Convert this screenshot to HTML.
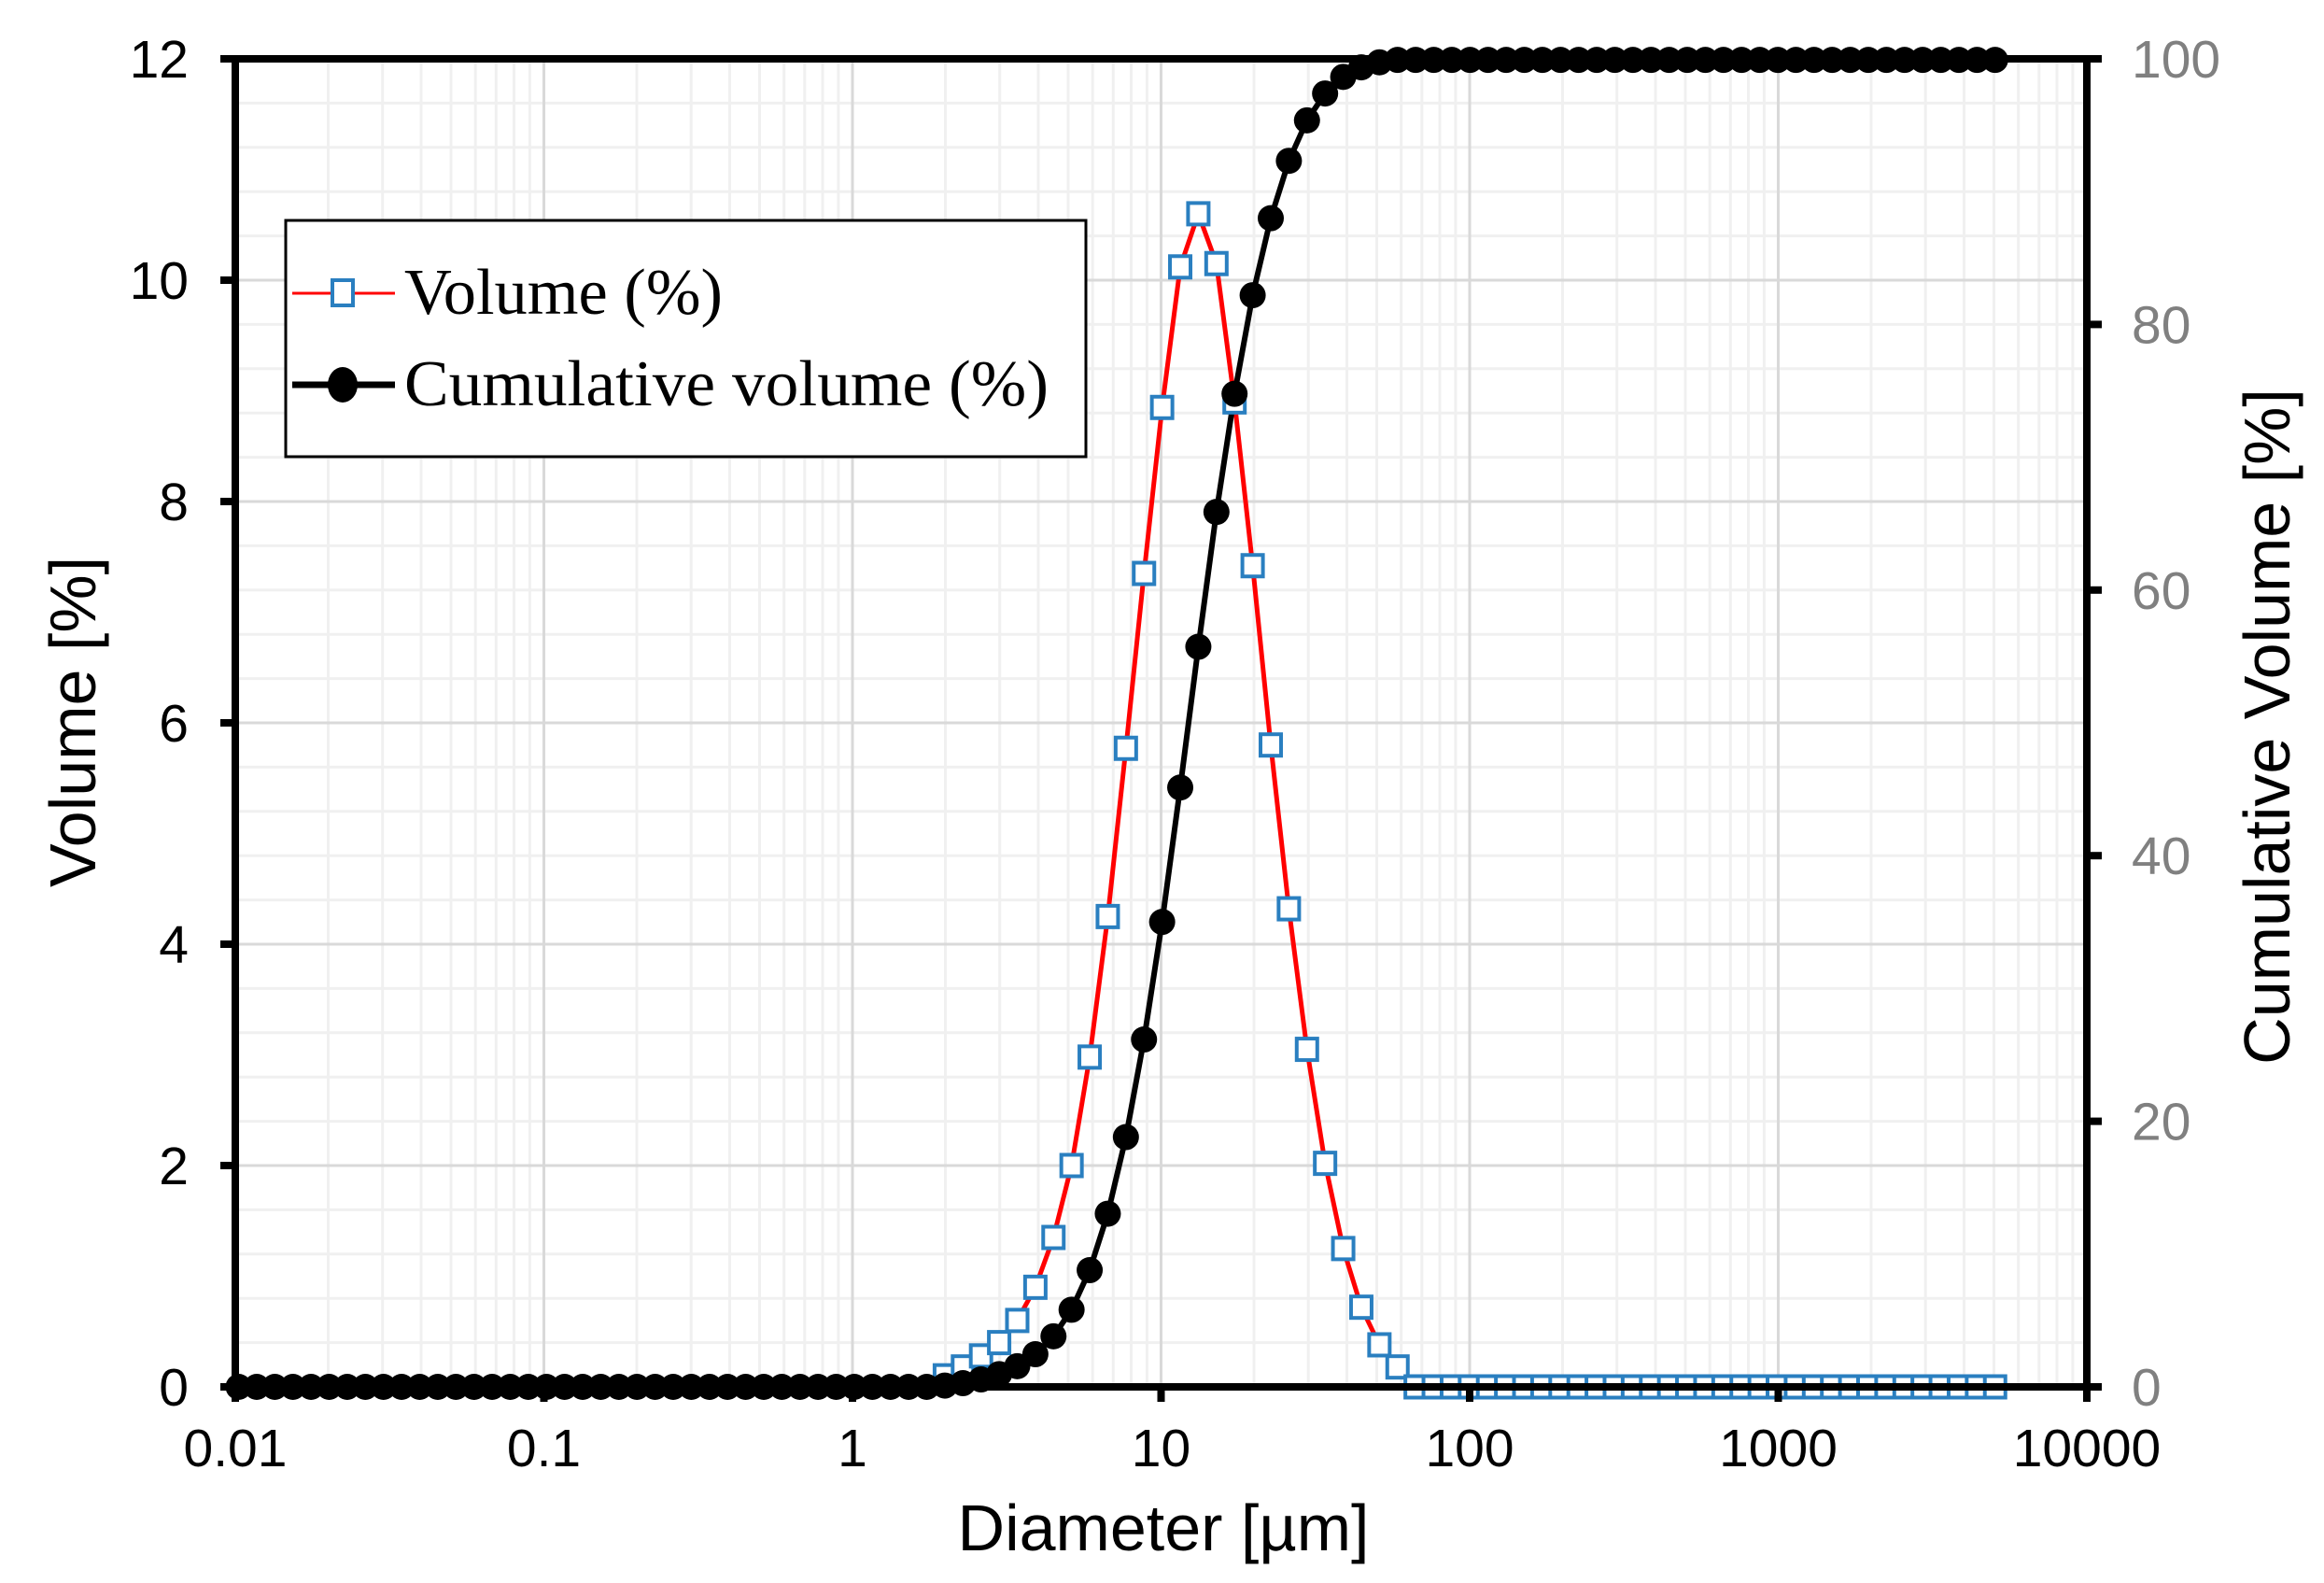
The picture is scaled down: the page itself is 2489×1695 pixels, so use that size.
<!DOCTYPE html>
<html><head><meta charset="utf-8"><style>
html,body{margin:0;padding:0;background:#fff;}
svg{display:block;}
</style></head><body>
<svg id="s" width="2489" height="1695" viewBox="0 0 2489 1695" xmlns="http://www.w3.org/2000/svg" font-family="Liberation Sans, sans-serif">
<g id="grid"></g>
<g id="series"></g>
<g id="axes"></g>
<g id="labels" font-size="57">
<text x="1246" y="1660" font-size="70" text-anchor="middle">Diameter [µm]</text>
<text transform="translate(102,773) rotate(-90)" font-size="70" text-anchor="middle">Volume [%]</text>
<text transform="translate(2452,778) rotate(-90)" font-size="70" text-anchor="middle">Cumulative Volume [%]</text>
</g>
<g id="legend">
<rect x="306" y="236" width="857" height="253" fill="#fff" stroke="#000" stroke-width="3"/>
<line x1="313" y1="314" x2="423" y2="314" stroke="#f00" stroke-width="3"/>
<rect x="356" y="300" width="22" height="27" fill="#fff" stroke="#2a7fc0" stroke-width="4"/>
<line x1="313" y1="412" x2="423" y2="412" stroke="#000" stroke-width="7"/>
<ellipse cx="367" cy="412" rx="16" ry="19" fill="#000"/>
<text x="433" y="336" font-family="Liberation Serif, serif" font-size="70" textLength="341" lengthAdjust="spacingAndGlyphs">Volume (%)</text>
<text x="433" y="434" font-family="Liberation Serif, serif" font-size="70" textLength="690" lengthAdjust="spacingAndGlyphs">Cumulative volume (%)</text>
</g>
</svg>
<script>
(function(){
var NS="http://www.w3.org/2000/svg";
function el(p,t,a){var e=document.createElementNS(NS,t);for(var k in a)e.setAttribute(k,a[k]);p.appendChild(e);return e;}
var L=252,R=2235,T=63,B=1485,dec=330.5;
function X(d){return L+dec*(Math.log10(d)+2);}
function Y(v){return B-v*(B-T)/12;}
function Yc(c){return B-c*(B-T)/100;}
var g=document.getElementById("grid");
for(var e=-2;e<4;e++)for(var m=2;m<10;m++){var x=X(m*Math.pow(10,e));el(g,"line",{x1:x,y1:T,x2:x,y2:B,stroke:"#f0f0f0","stroke-width":3});}
for(var v=0;v<12;v+=0.4){if(Math.abs(v/2-Math.round(v/2))<0.01)continue;var y=Y(v);el(g,"line",{x1:L,y1:y,x2:R,y2:y,stroke:"#f0f0f0","stroke-width":3});}
for(var e=-1;e<4;e++){var x=X(Math.pow(10,e));el(g,"line",{x1:x,y1:T,x2:x,y2:B,stroke:"#d9d9d9","stroke-width":3});}
for(var v=2;v<12;v+=2){var y=Y(v);el(g,"line",{x1:L,y1:y,x2:R,y2:y,stroke:"#d9d9d9","stroke-width":3});}
var vol=[0.1,0.18,0.28,0.4,0.6,0.9,1.35,2.0,2.98,4.25,5.77,7.35,8.85,10.12,10.6,10.15,8.9,7.42,5.8,4.32,3.05,2.02,1.25,0.72,0.38,0.18,0];
function xd(k){var xdisp=956+12.27*k;var lg=(xdisp-160)/209.1-2;return L+dec*(lg+2)+6;}
var s=document.getElementById("series");
var cum=[],c=0;
for(var k=-65;k<=32;k++){var i=k+26;var v=(i>=0&&i<vol.length)?vol[i]:0;c+=v;cum.push([Math.max(xd(k),L),Math.min(c,100)]);}
var pts=cum.map(function(p){return p[0]+","+Yc(p[1]);}).join(" ");
var rp=[];for(var k=-26;k<=32;k++){var i=k+26;var v=i<vol.length?vol[i]:0;rp.push([xd(k),Y(v)]);}
el(s,"polyline",{points:rp.map(function(p){return p.join(",");}).join(" "),fill:"none",stroke:"#f00","stroke-width":5,"stroke-linejoin":"round"});
el(s,"polyline",{points:pts,fill:"none",stroke:"#000","stroke-width":6,"stroke-linejoin":"round"});
rp.forEach(function(p){el(s,"rect",{x:p[0]-11,y:p[1]-11.5,width:22,height:23,fill:"#fff",stroke:"#2a7fc0","stroke-width":4});});
cum.forEach(function(p){el(s,"circle",{cx:p[0],cy:Yc(p[1]),r:14,fill:"#000"});});
var a=document.getElementById("axes");
el(a,"rect",{x:L,y:T,width:R-L,height:B-T,fill:"none",stroke:"#000","stroke-width":8});
var lb=document.getElementById("labels");
for(var v=0;v<=12;v+=2){var y=Y(v);el(a,"line",{x1:L-16,y1:y,x2:L,y2:y,stroke:"#000","stroke-width":8});
var t=el(lb,"text",{x:202,y:y+20,"text-anchor":"end"});t.textContent=v;}
for(var c2=0;c2<=100;c2+=20){var y=Yc(c2);el(a,"line",{x1:R,y1:y,x2:R+16,y2:y,stroke:"#000","stroke-width":8});
var t=el(lb,"text",{x:2283,y:y+20,fill:"#808080"});t.textContent=c2;}
var xl=["0.01","0.1","1","10","100","1000","10000"];
for(var e=-2;e<=4;e++){var x=X(Math.pow(10,e));el(a,"line",{x1:x,y1:B,x2:x,y2:B+16,stroke:"#000","stroke-width":8});
var t=el(lb,"text",{x:x,y:1570,"text-anchor":"middle"});t.textContent=xl[e+2];}
})();
</script>
</body></html>
